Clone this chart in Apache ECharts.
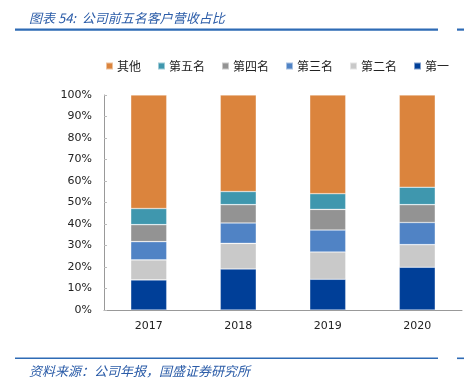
<!DOCTYPE html>
<html><head><meta charset="utf-8">
<script src="https://cdn.jsdelivr.net/npm/echarts@6/dist/echarts.min.js"></script>
<style>html,body{margin:0;padding:0;background:#fff}#c{width:464px;height:385px}</style>
</head><body><div id="c"></div>
<script>
const categories = ['2017', '2018', '2019', '2020'];
const first  = [14.0, 19.1, 14.3, 19.9];
const second = [9.3, 11.9, 12.7, 10.5];
const third  = [8.5, 9.5, 10.2, 10.3];
const fourth = [7.9, 8.5, 9.6, 8.3];
const fifth  = [7.5, 6.1, 7.3, 8.1];
const others = [52.8, 44.9, 45.9, 42.9];
const seriesNames = ['第一', '第二名', '第三名', '第四名', '第五名', '其他'];
const legendOrder = ['其他', '第五名', '第四名', '第三名', '第二名', '第一'];
const colors = ['#003f98', '#c9c9c9', '#5083c5', '#939393', '#3f97ae', '#db843d'];
const valuesList = [first, second, third, fourth, fifth, others];

const chart = echarts.init(document.getElementById('c'), null, {renderer: 'canvas'});
const blue = '#2e6bb5';
chart.setOption({
  animation: false,
  title: [
    {text: '图表 54:  公司前五名客户营收占比', left: 24, top: 7,
     textStyle: {fontFamily: 'Noto Sans CJK SC', fontStyle: 'italic', fontWeight: 'normal', fontSize: 13, color: '#2b5ca8'}},
    {text: '资料来源：公司年报，国盛证券研究所', left: 24, top: 360,
     textStyle: {fontFamily: 'Noto Sans CJK SC', fontStyle: 'italic', fontWeight: 'normal', fontSize: 13, color: '#2b5ca8'}}
  ],
  graphic: [
    {type: 'rect', shape: {x: 15, y: 28.5, width: 423, height: 2.2}, style: {fill: blue}},
    {type: 'rect', shape: {x: 457, y: 28.5, width: 7, height: 2.2}, style: {fill: blue}},
    {type: 'rect', shape: {x: 15, y: 357.5, width: 423, height: 1.6}, style: {fill: blue}},
    {type: 'rect', shape: {x: 457, y: 357.5, width: 7, height: 1.6}, style: {fill: blue}}
  ],
  legend: {
    data: legendOrder, left: 100, top: 55, itemWidth: 7, itemHeight: 7, itemGap: 16,
    icon: 'rect',
    textStyle: {fontFamily: 'Noto Sans CJK SC', fontSize: 12, color: '#222', padding: [0,0,0,-1]}
  },
  grid: {left: 104, right: 2, top: 95, height: 215},
  xAxis: {
    type: 'category', data: categories,
    axisLine: {lineStyle: {color: '#999', width: 1}},
    axisTick: {inside: true, length: 4, lineStyle: {color: '#999'}},
    axisLabel: {fontFamily: 'DejaVu Sans', fontSize: 11, color: '#222', margin: 11}
  },
  yAxis: {
    type: 'value', min: 0, max: 100, interval: 10,
    axisLine: {show: true, lineStyle: {color: '#999', width: 1}},
    axisTick: {show: true, inside: true, length: 3, lineStyle: {color: '#bbb'}},
    splitLine: {show: false},
    axisLabel: {formatter: '{value}%', fontFamily: 'DejaVu Sans', fontSize: 11, color: '#222', margin: 12}
  },
  series: seriesNames.map((n, i) => ({
    name: n, type: 'bar', stack: 'total', barWidth: 36,
    data: valuesList[i],
    itemStyle: {color: colors[i], borderColor: 'rgba(255,255,255,0.5)', borderWidth: 0.6}
  }))
});
</script></body></html>
